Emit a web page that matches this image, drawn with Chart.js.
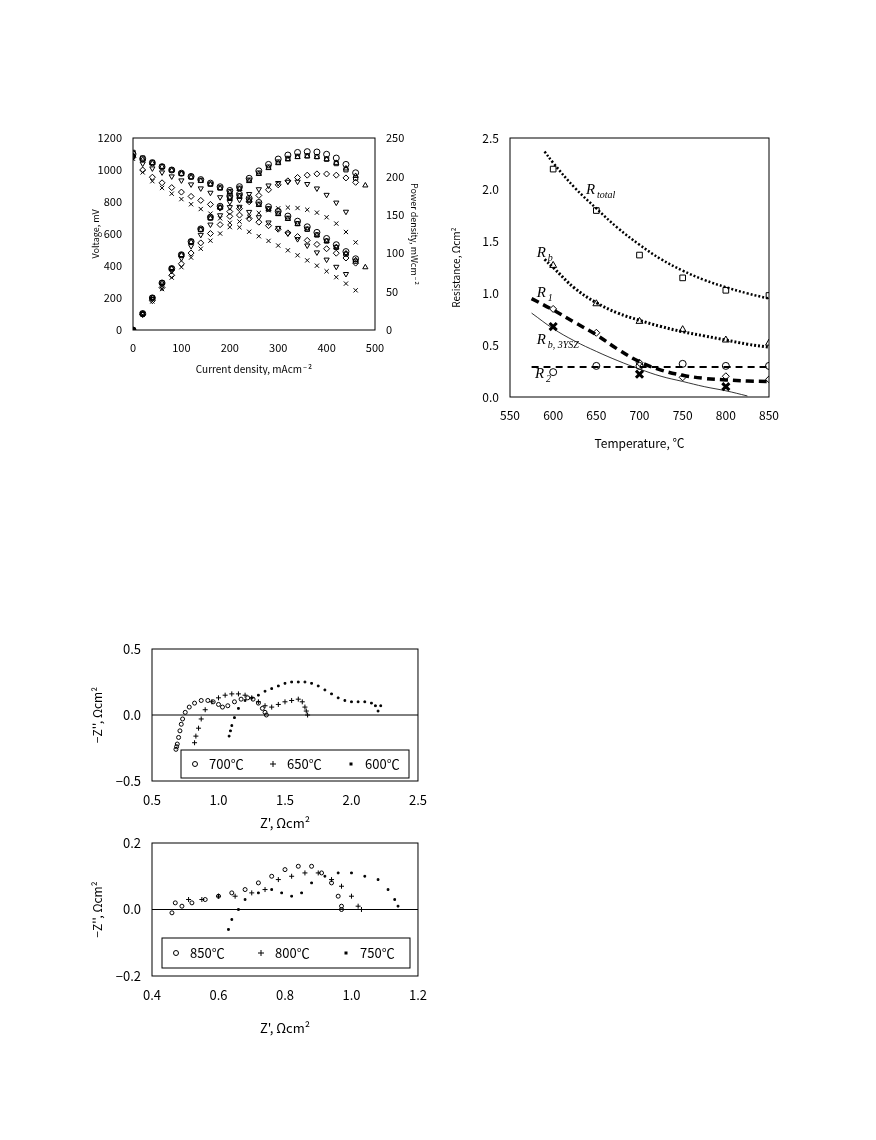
<!DOCTYPE html>
<html><head><meta charset="utf-8">
<script src="https://cdn.jsdelivr.net/npm/chart.js@4.4.0/dist/chart.umd.min.js"></script>
<style>body{margin:0;background:#fff;width:876px;height:1140px;position:relative}
canvas{position:absolute}</style></head><body>
<canvas id="a" style="left:90px;top:125px;width:330px;height:250px" width="330" height="250"></canvas>
<canvas id="b" style="left:450px;top:125px;width:340px;height:330px" width="340" height="330"></canvas>
<canvas id="c" style="left:90px;top:635px;width:340px;height:200px" width="340" height="200"></canvas>
<canvas id="d" style="left:90px;top:830px;width:340px;height:210px" width="340" height="210"></canvas>
<script>
// ---------- Panel A: I-V-P ----------
const currents = [0,20,40,60,80,100,120,140,160,180,200,220,240,260,280,300,320,340,360,380,400,420,440,460,480];
const V1 = [1100,1070,1045,1020,1000,980,960,940,918,895,872,848,823,797,770,742,712,680,645,610,572,533,490,445];
const P1 = [0,21.4,41.8,61.2,80,98,115.2,131.6,146.9,161.1,174.4,186.6,197.5,207.2,215.6,222.6,227.8,231.2,232.2,231.8,228.8,223.9,215.6,204.7];
const V2 = [1110,1075,1048,1022,1000,978,957,935,912,888,864,839,813,786,758,729,698,665,630,594,556,516,474,430];
const P2 = [0,21.5,41.9,61.3,80,97.8,114.8,130.9,145.9,159.8,172.8,184.6,195.1,204.4,212.2,218.7,223.4,226.1,226.8,225.7,222.4,216.7,208.6,197.8];
const V3 = [1090,1065,1042,1020,998,976,954,932,909,885,860,834,808,781,753,724,694,662,628,593,556,518,478,436,392];
const P3 = [0,21.3,41.7,61.2,79.8,97.6,114.5,130.5,145.4,159.3,172,183.5,193.9,203.1,210.8,217.2,222.1,225.1,226.1,225.3,222.4,217.6,210.3,200.6,188.2];
const V4 = [1080,1040,1010,985,960,935,910,885,858,830,800,770,738,705,672,638,603,568,528,485,440,395,350];
const P4 = [0,20.8,40.4,59.1,76.8,93.5,109.2,123.9,137.3,149.4,160,169.4,177.1,183.3,188.2,191.4,193,193.1,190.1,184.3,176,165.9,154];
const V5 = [1080,1000,955,920,890,862,835,810,785,762,740,718,696,674,652,630,607,584,560,535,508,480,450,418];
const P5 = [0,20,38.2,55.2,71.2,86.2,100.2,113.4,125.6,137.2,148,158,167,175.2,182.6,189,194.2,198.6,201.6,203.3,203.2,201.6,198,192.3];
const V6 = [1070,985,930,888,852,818,786,756,727,698,670,642,614,586,557,528,498,467,435,402,367,330,290,248];
const P6 = [0,19.7,37.2,53.3,68.2,81.8,94.3,105.8,116.3,125.6,134,141.2,147.4,152.4,156,158.4,159.4,158.8,156.6,152.8,146.8,138.6,127.6,114.1];
const voltTicks = [0,200,400,600,800,1000,1200];
const powerTicks = [0,50,100,150,200,250];

// ---------- Panel B: resistance ----------
const tempPts = [600,650,700,750,800,850];
const RtotalPts = [2.2,1.8,1.37,1.15,1.03,0.98];
const RbPts = [1.27,0.9,0.73,0.65,0.55,0.52];
const R1Pts = [0.85,0.62,0.33,0.19,0.2,0.17];
const R2Pts = [0.24,0.3,0.3,0.32,0.3,0.3];
const RysTemps = [600,700,800];
const RysPts = [0.68,0.22,0.1];
const fitTempsTot = [590,600,625,650,675,700,725,750,775,800,825,850];
const RtotalFit = [2.37,2.26,2.02,1.82,1.63,1.47,1.33,1.22,1.13,1.06,1.0,0.95];
const RbFit = [1.33,1.25,1.05,0.91,0.81,0.74,0.68,0.63,0.59,0.55,0.51,0.48];
const fitTemps2 = [575,600,625,650,675,700,725,750,775,800,825,850];
const R1Fit = [0.95,0.84,0.72,0.6,0.46,0.34,0.26,0.21,0.18,0.165,0.155,0.15];
const R2Fit = [0.29,0.29,0.29,0.29,0.29,0.29,0.29,0.29,0.29,0.29,0.29,0.29];
const RysFitTemps = [575,600,625,650,675,700,725,750,775,800,825];
const RysFit = [0.81,0.66,0.54,0.44,0.35,0.27,0.2,0.15,0.1,0.06,0.01];

// ---------- Panel C: impedance 600-700 ----------
const z700x = [0.68,0.685,0.69,0.70,0.71,0.72,0.73,0.75,0.78,0.82,0.87,0.92,0.96,1.0,1.03,1.07,1.12,1.17,1.22,1.26,1.3,1.33,1.35,1.36];
const z700y = [-0.26,-0.24,-0.22,-0.17,-0.12,-0.07,-0.03,0.02,0.06,0.09,0.11,0.11,0.10,0.08,0.06,0.07,0.10,0.12,0.13,0.12,0.09,0.05,0.02,0.0];
const z650x = [0.82,0.83,0.85,0.87,0.90,0.95,1.0,1.05,1.1,1.15,1.2,1.25,1.3,1.35,1.4,1.45,1.5,1.55,1.6,1.63,1.65,1.66,1.67];
const z650y = [-0.21,-0.16,-0.10,-0.03,0.04,0.10,0.13,0.15,0.16,0.16,0.15,0.13,0.10,0.07,0.06,0.08,0.10,0.11,0.12,0.10,0.06,0.03,0.0];
const z600x = [1.08,1.09,1.10,1.12,1.15,1.2,1.25,1.3,1.35,1.4,1.45,1.5,1.55,1.6,1.65,1.7,1.75,1.8,1.85,1.9,1.95,2.0,2.05,2.1,2.15,2.18,2.2,2.22];
const z600y = [-0.16,-0.12,-0.08,-0.02,0.05,0.11,0.13,0.15,0.18,0.20,0.22,0.24,0.25,0.25,0.25,0.24,0.22,0.19,0.16,0.13,0.11,0.10,0.10,0.10,0.09,0.07,0.03,0.07];
const zLabelsC = ['700℃','650℃','600℃'];

// ---------- Panel D: impedance 750-850 ----------
const z850x = [0.46,0.47,0.49,0.52,0.56,0.6,0.64,0.68,0.72,0.76,0.8,0.84,0.88,0.91,0.94,0.96,0.97,0.97];
const z850y = [-0.01,0.02,0.01,0.02,0.03,0.04,0.05,0.06,0.08,0.10,0.12,0.13,0.13,0.11,0.08,0.04,0.01,0.0];
const z800x = [0.51,0.55,0.6,0.65,0.7,0.74,0.78,0.82,0.86,0.9,0.94,0.97,1.0,1.02,1.03];
const z800y = [0.03,0.03,0.04,0.04,0.05,0.06,0.09,0.10,0.11,0.11,0.09,0.07,0.04,0.01,0.0];
const z750x = [0.62,0.63,0.64,0.66,0.68,0.72,0.76,0.79,0.82,0.85,0.88,0.92,0.96,1.0,1.04,1.08,1.11,1.13,1.14];
const z750y = [-0.1,-0.06,-0.03,0.0,0.03,0.05,0.06,0.05,0.04,0.05,0.08,0.10,0.11,0.11,0.10,0.09,0.06,0.03,0.01];
const zLabelsD = ['850℃','800℃','750℃'];

const F = "'Noto Sans CJK JP','DejaVu Sans Mono',monospace";
Chart.defaults.font.family = F;
Chart.defaults.color = '#000';
Chart.defaults.animation = false;

function pts(xs, ys){ return ys.map((y,i)=>({x:xs[i], y})); }
const boxPlugin = {id:'box', afterDraw(ch,args,o){
  const a=ch.chartArea,c=ch.ctx; c.save(); c.strokeStyle='#000'; c.lineWidth=1;
  c.strokeRect(a.left,a.top,a.right-a.left,a.bottom-a.top);
  if(o.zero){ const y=ch.scales.y.getPixelForValue(0); c.beginPath(); c.moveTo(a.left,y); c.lineTo(a.right,y); c.stroke(); }
  if(o.legend){ const L=o.legend; c.fillStyle='#fff'; c.fillRect(L.x,L.y,L.w,L.h); c.strokeRect(L.x,L.y,L.w,L.h);
    c.fillStyle='#000'; c.font='13px '+F; c.textBaseline='middle';
    L.items.forEach((it,i)=>{ const x=L.x+14+i*L.step, y=L.y+L.h/2;
      c.beginPath();
      if(it.m==='o'){c.arc(x,y,2.5,0,7);c.stroke();}
      else if(it.m==='+'){c.moveTo(x-3,y);c.lineTo(x+3,y);c.moveTo(x,y-3);c.lineTo(x,y+3);c.stroke();}
      else {c.fillRect(x-1.5,y-1.5,3,3);}
      c.fillText(it.t,x+14,y);});
  }
  if(o.labels){ o.labels.forEach(l=>{ const x=ch.scales.x.getPixelForValue(l.x), y=ch.scales.y.getPixelForValue(l.y);
    c.fillStyle='#000'; c.font='italic 15px "Liberation Serif",serif'; c.textBaseline='alphabetic'; c.fillText(l.t,x,y);
    c.font='italic 10px "Liberation Serif",serif'; c.fillText(l.s,x+11,y+4); }); }
  c.restore();}};
Chart.register(boxPlugin);
function fitW(w){return s=>{s.width=w;};} function fitH(h){return s=>{s.height=h;};}
const tk = {font:{size:11},callback:v=>String(v)};
const gridOff = {display:false};

// Panel A
const markA = ['circle','rect','triangle','triangle','rectRot','crossRot'];
const rotA = [0,0,0,180,0,0];
const Vs=[V1,V2,V3,V4,V5,V6], Ps=[P1,P2,P3,P4,P5,P6];
const dsA=[];
Vs.forEach((v,k)=>{ dsA.push({data:pts(currents,v),yAxisID:'y',showLine:false,pointStyle:markA[k],rotation:rotA[k],pointRadius:3,borderColor:'#000',backgroundColor:'transparent',borderWidth:1});
  dsA.push({data:pts(currents,Ps[k]),yAxisID:'y2',showLine:false,pointStyle:markA[k],rotation:rotA[k],pointRadius:3,borderColor:'#000',backgroundColor:'transparent',borderWidth:1});});
new Chart(document.getElementById('a'),{type:'scatter',data:{datasets:dsA},options:{responsive:false,layout:{padding:{top:13,right:0,left:0}},
 plugins:{legend:{display:false},tooltip:{enabled:false},box:{}},
 scales:{x:{type:'linear',min:0,max:500,ticks:{...tk,stepSize:100},grid:gridOff,afterFit:fitH(45),border:{display:false},
   title:{display:true,text:'Current density, mAcm⁻²',font:{size:10},padding:0}},
  y:{min:0,max:1200,afterBuildTicks:s=>{s.ticks=voltTicks.map(v=>({value:v}))},ticks:tk,grid:gridOff,afterFit:fitW(43),border:{display:false},
   title:{display:true,text:'Voltage, mV',font:{size:9},padding:0}},
  y2:{position:'right',min:0,max:250,afterBuildTicks:s=>{s.ticks=powerTicks.map(v=>({value:v}))},ticks:tk,grid:gridOff,afterFit:fitW(45),border:{display:false},
   title:{display:true,text:'Power density, mWcm⁻²',font:{size:9},padding:0}}}}});

// Panel B
const lineDs=(xs,ys,dash,w)=>({type:'line',data:pts(xs,ys),borderColor:'#000',borderWidth:w,borderDash:dash,pointRadius:0,tension:0.4,fill:false});
const ptDs=(xs,ys,st,r)=>({data:pts(xs,ys),showLine:false,pointStyle:st,pointRadius:r,borderColor:'#000',backgroundColor:'transparent',borderWidth:1});
new Chart(document.getElementById('b'),{type:'scatter',data:{datasets:[
  lineDs(fitTempsTot,RtotalFit,[2,2],2.5), lineDs(fitTempsTot,RbFit,[2,2],3),
  lineDs(fitTemps2,R1Fit,[8,5],3.5), lineDs(fitTemps2,R2Fit,[7,5],2), lineDs(RysFitTemps,RysFit,[],0.8),
  ptDs(tempPts,RtotalPts,'rect',4), ptDs(tempPts,RbPts,'triangle',4), ptDs(tempPts,R1Pts,'rectRot',3.5),
  ptDs(tempPts,R2Pts,'circle',3.5), {...ptDs(RysTemps,RysPts,'crossRot',5),borderWidth:3}]},
 options:{responsive:false,layout:{padding:{top:13,right:21}},
 plugins:{legend:{display:false},tooltip:{enabled:false},box:{labels:[
   {x:638,y:1.96,t:'R',s:'total'},{x:581,y:1.35,t:'R',s:'b'},{x:581,y:0.97,t:'R',s:'1'},{x:581,y:0.51,t:'R',s:'b, 3YSZ'},{x:579,y:0.18,t:'R',s:'2'}]}},
 scales:{x:{type:'linear',min:550,max:850,ticks:{font:{size:12},stepSize:50},grid:gridOff,afterFit:fitH(58),border:{display:false},
   title:{display:true,text:'Temperature, ℃',font:{size:12},padding:{top:0}}},
  y:{min:0,max:2.5,ticks:{font:{size:12},stepSize:0.5,callback:v=>v.toFixed(1)},grid:gridOff,afterFit:fitW(60),border:{display:false},
   title:{display:true,text:'Resistance, Ωcm²',font:{size:10},padding:0}}}}});

// Panel C/D
function nyq(id,sets,xmin,xmax,xstep,ymin,ymax,ystep,padTop,xh,legend){
 const st=[{s:'circle',r:2},{s:'cross',r:2.5},{s:'rect',r:1.2}];
 new Chart(document.getElementById(id),{type:'scatter',data:{datasets:sets.map((d,k)=>({data:pts(d[0],d[1]),showLine:false,pointStyle:st[k].s,pointRadius:st[k].r,borderColor:'#000',backgroundColor:k==2?'#000':'transparent',borderWidth:1}))},
 options:{responsive:false,layout:{padding:{top:padTop,right:10}},
 plugins:{legend:{display:false},tooltip:{enabled:false},box:{zero:true,legend}},
 scales:{x:{type:'linear',min:xmin,max:xmax,ticks:{font:{size:13},stepSize:xstep,callback:v=>v.toFixed(1)},grid:gridOff,afterFit:fitH(xh),border:{display:false},
   title:{display:true,text:"Z', Ωcm²",font:{size:13},padding:{top:2}}},
  y:{min:ymin,max:ymax,ticks:{font:{size:13},stepSize:ystep,callback:v=>v===0?'0.0':(v<0?'−':'')+Math.abs(v).toFixed(1)},grid:gridOff,afterFit:fitW(62),border:{display:false},
   title:{display:true,text:"−Z'', Ωcm²",font:{size:12},padding:0}}}}});}
nyq('c',[[z700x,z700y],[z650x,z650y],[z600x,z600y]],0.5,2.5,0.5,-0.5,0.5,0.5,14,54,
 {x:91,y:115,w:228,h:28,step:78,items:[{m:'o',t:zLabelsC[0]},{m:'+',t:zLabelsC[1]},{m:'.',t:zLabelsC[2]}]});
nyq('d',[[z850x,z850y],[z800x,z800y],[z750x,z750y]],0.4,1.2,0.2,-0.2,0.2,0.2,13,64,
 {x:72,y:108,w:248,h:30,step:85,items:[{m:'o',t:zLabelsD[0]},{m:'+',t:zLabelsD[1]},{m:'.',t:zLabelsD[2]}]});
</script></body></html>
